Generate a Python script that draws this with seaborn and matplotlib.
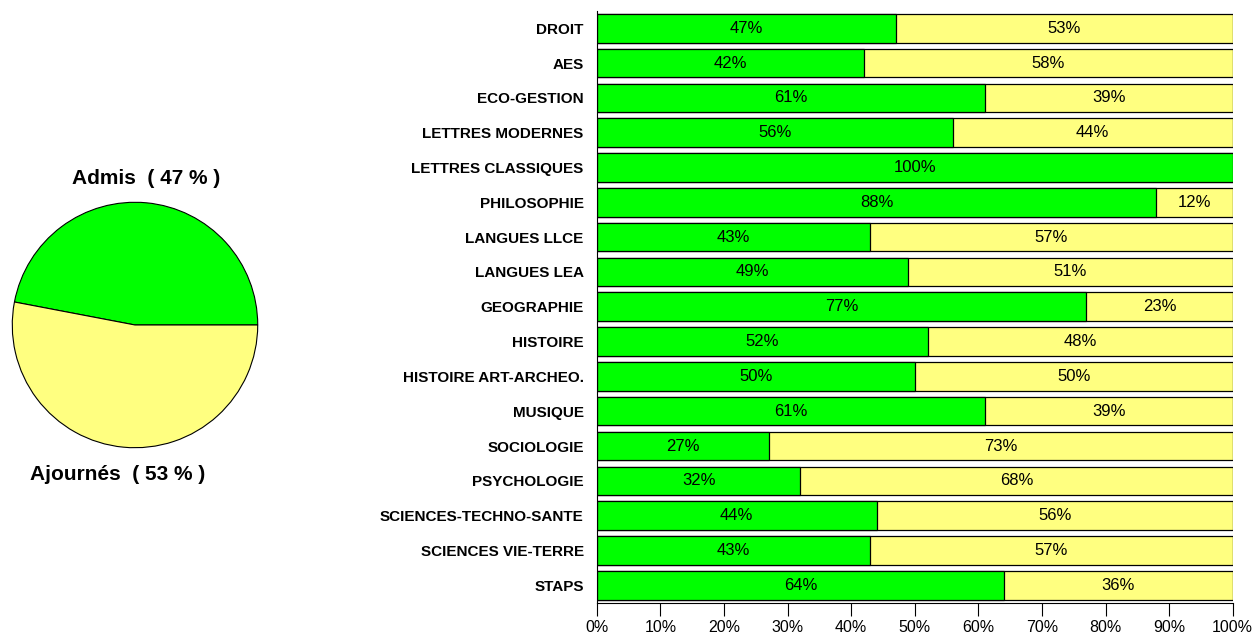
import numpy as np
import pandas as pd
import matplotlib
matplotlib.use('Agg')
import matplotlib.pyplot as plt
from matplotlib.ticker import FixedLocator
import seaborn as sns

sns.set_theme(style='white')
plt.rcParams['font.family'] = ['Liberation Sans', 'DejaVu Sans']
plt.rcParams['text.color'] = 'black'
plt.rcParams['xtick.color'] = 'black'
plt.rcParams['ytick.color'] = 'black'

filieres = ['DROIT', 'AES', 'ECO-GESTION', 'LETTRES MODERNES', 'LETTRES CLASSIQUES',
            'PHILOSOPHIE', 'LANGUES LLCE', 'LANGUES LEA', 'GEOGRAPHIE', 'HISTOIRE',
            'HISTOIRE ART-ARCHEO.', 'MUSIQUE', 'SOCIOLOGIE', 'PSYCHOLOGIE',
            'SCIENCES-TECHNO-SANTE', 'SCIENCES VIE-TERRE', 'STAPS']
admis = [47, 42, 61, 56, 100, 88, 43, 49, 77, 52, 50, 61, 27, 32, 44, 43, 64]
ajournes = [53, 58, 39, 44, 0, 12, 57, 51, 23, 48, 50, 39, 73, 68, 56, 57, 36]

pie_labels = ['Admis', 'Ajournés']
pie_values = [47, 53]

GREEN = '#00ff00'
YELLOW = '#ffff80'

df = pd.DataFrame({'filiere': filieres, 'admis': admis, 'ajournes': ajournes})
df['total'] = df['admis'] + df['ajournes']

fig = plt.figure(figsize=(12.54, 6.35), dpi=100)

# camembert global
ax_pie = fig.add_axes([0.0, 0.2756, 0.2153, 0.4252])
ax_pie.pie(pie_values, colors=[GREEN, YELLOW], startangle=0, counterclock=True,
           wedgeprops={'edgecolor': 'black', 'linewidth': 0.8})
ax_pie.set_xlim(-1.1, 1.1)
ax_pie.set_ylim(-1.1, 1.1)
ax_pie.set_aspect('equal')
ax_pie.text(0.09, 1.19, f'{pie_labels[0]}  ( {pie_values[0]} % )', ha='center', va='center',
            fontsize=15, fontweight='bold')
ax_pie.text(-0.14, -1.22, f'{pie_labels[1]}  ( {pie_values[1]} % )', ha='center', va='center',
            fontsize=15, fontweight='bold')

# barres empilées par filière
ax = fig.add_axes([0.476, 0.0509, 0.507, 0.932])
sns.barplot(df, y='filiere', x='total', color=YELLOW, orient='h', width=0.82,
            edgecolor='black', linewidth=0.9, saturation=1, ax=ax)
sns.barplot(df, y='filiere', x='admis', color=GREEN, orient='h', width=0.82,
            edgecolor='black', linewidth=0.9, saturation=1, ax=ax)

for i, (a, j) in enumerate(zip(admis, ajournes)):
    if a > 0:
        ax.text(a / 2, i, f'{a}%', ha='center', va='center', fontsize=12)
    if j > 0:
        ax.text(a + j / 2, i, f'{j}%', ha='center', va='center', fontsize=12)

ax.set_xlim(0, 100)
ax.set_ylim(len(filieres) - 0.5, -0.5)
ax.set_xticks(np.arange(0, 101, 10))
ax.set_xticklabels([f'{v}%' for v in range(0, 101, 10)], fontsize=11.5)
ax.yaxis.set_minor_locator(FixedLocator(np.arange(-0.5, len(filieres), 1)))
ax.tick_params(axis='y', which='major', length=0, pad=9.5, labelsize=11)
ax.tick_params(axis='y', which='minor', length=9.5, width=0.8, color='black')
ax.tick_params(axis='x', which='major', length=9.5, width=0.8, color='black', bottom=True, pad=3)
for lab in ax.get_yticklabels():
    lab.set_fontweight('bold')
ax.set_xlabel('')
ax.set_ylabel('')
for side in ['top', 'right']:
    ax.spines[side].set_visible(False)
for side in ['left', 'bottom']:
    ax.spines[side].set_color('black')
    ax.spines[side].set_linewidth(0.8)

fig.savefig('out.png', dpi=100)
